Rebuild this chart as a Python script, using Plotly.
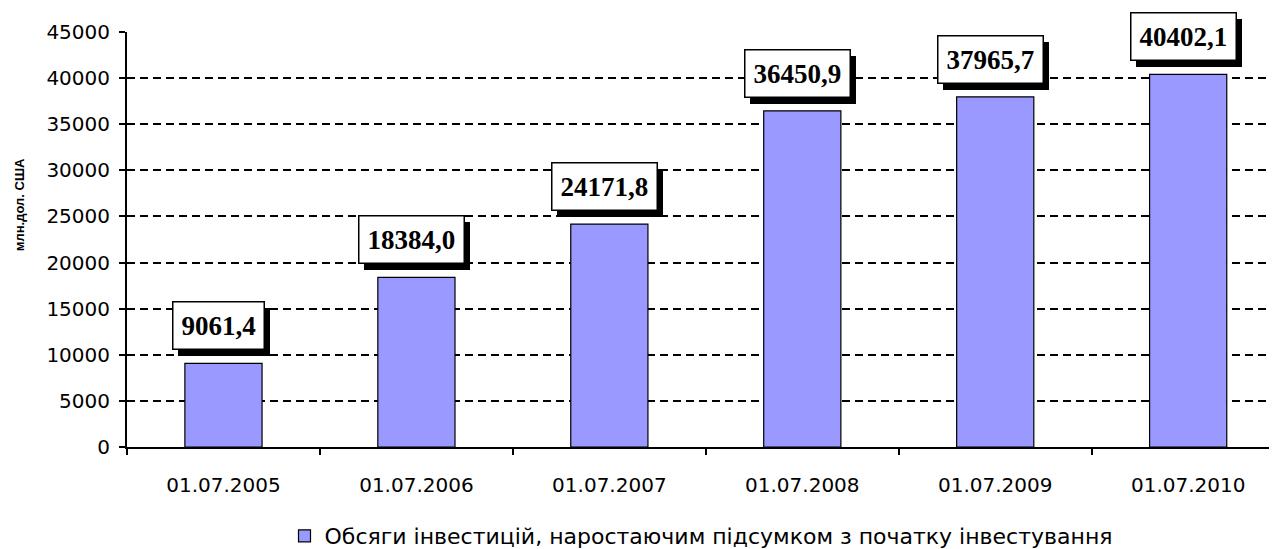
import plotly.graph_objects as go

categories = ["01.07.2005", "01.07.2006", "01.07.2007", "01.07.2008", "01.07.2009", "01.07.2010"]
values = [9061.4, 18384.0, 24171.8, 36450.9, 37965.7, 40402.1]
labels = ["9061,4", "18384,0", "24171,8", "36450,9", "37965,7", "40402,1"]
series_name = "Обсяги інвестицій, наростаючим підсумком з початку інвестування"
y_ticks = [0, 5000, 10000, 15000, 20000, 25000, 30000, 35000, 40000, 45000]
y_title = "млн.дол. США"

LABEL_FONT = dict(family="Liberation Serif", size=27, color="black")


def blank_like(t):
    # non-breaking spaces of the same width as the label (digits = 2 nbsp, comma = 1 nbsp)
    return "".join("&nbsp;" if ch == "," else "&nbsp;&nbsp;" for ch in t)


fig = go.Figure()
fig.add_trace(go.Bar(
    x=categories, y=values, name=series_name,
    marker=dict(color="#9999FF", line=dict(color="black", width=1.2)),
    width=0.4, showlegend=True,
))

annotations = []
for c, v, t in zip(categories, values, labels):
    annotations.append(dict(
        x=c, y=v, xref="x", yref="y", text="<b>%s</b>" % blank_like(t), showarrow=False,
        yanchor="bottom", yshift=13 - 6, xshift=-5 + 6,
        font=LABEL_FONT,
        bgcolor="black", bordercolor="black", borderwidth=1, borderpad=8,
    ))
    annotations.append(dict(
        x=c, y=v, xref="x", yref="y", text="<b>%s</b>" % t, showarrow=False,
        yanchor="bottom", yshift=13, xshift=-5,
        font=LABEL_FONT,
        bgcolor="white", bordercolor="black", borderwidth=1.5, borderpad=8,
    ))

annotations.append(dict(
    x=-0.094, y=0.583, xref="paper", yref="paper", text="<b>%s</b>" % y_title,
    showarrow=False, textangle=-90, xanchor="center", yanchor="middle",
    font=dict(family="Arial", size=13, color="black"),
))

fig.update_layout(
    width=1277, height=549,
    margin=dict(l=119, r=10, t=24, b=110, autoexpand=False),
    paper_bgcolor="white", plot_bgcolor="white",
    font=dict(family="DejaVu Sans", size=20, color="black"),
    annotations=annotations,
    showlegend=True,
    legend=dict(orientation="h", x=0.5, xanchor="center", y=-0.2145, yanchor="middle",
                font=dict(family="DejaVu Sans", size=22, color="black")),
    xaxis=dict(
        range=[-0.5, 5.45], showline=True, linecolor="black", linewidth=1.5,
        ticks="outside", ticklen=6, tickcolor="black", tickwidth=1.5, tickson="boundaries",
        showgrid=False, tickfont=dict(size=20), automargin=False, ticklabelstandoff=19,
    ),
    yaxis=dict(
        range=[0, 45000], tickvals=y_ticks, ticktext=[str(v) for v in y_ticks],
        showline=True, linecolor="black", linewidth=2,
        ticks="outside", ticklen=6, tickcolor="black", tickwidth=1.5,
        showgrid=True, gridcolor="black", gridwidth=2, griddash="8px,5px",
        zeroline=False, tickfont=dict(size=20), automargin=False, ticklabelstandoff=5,
    ),
    bargap=0.6,
)

fig.write_html("out.html")
